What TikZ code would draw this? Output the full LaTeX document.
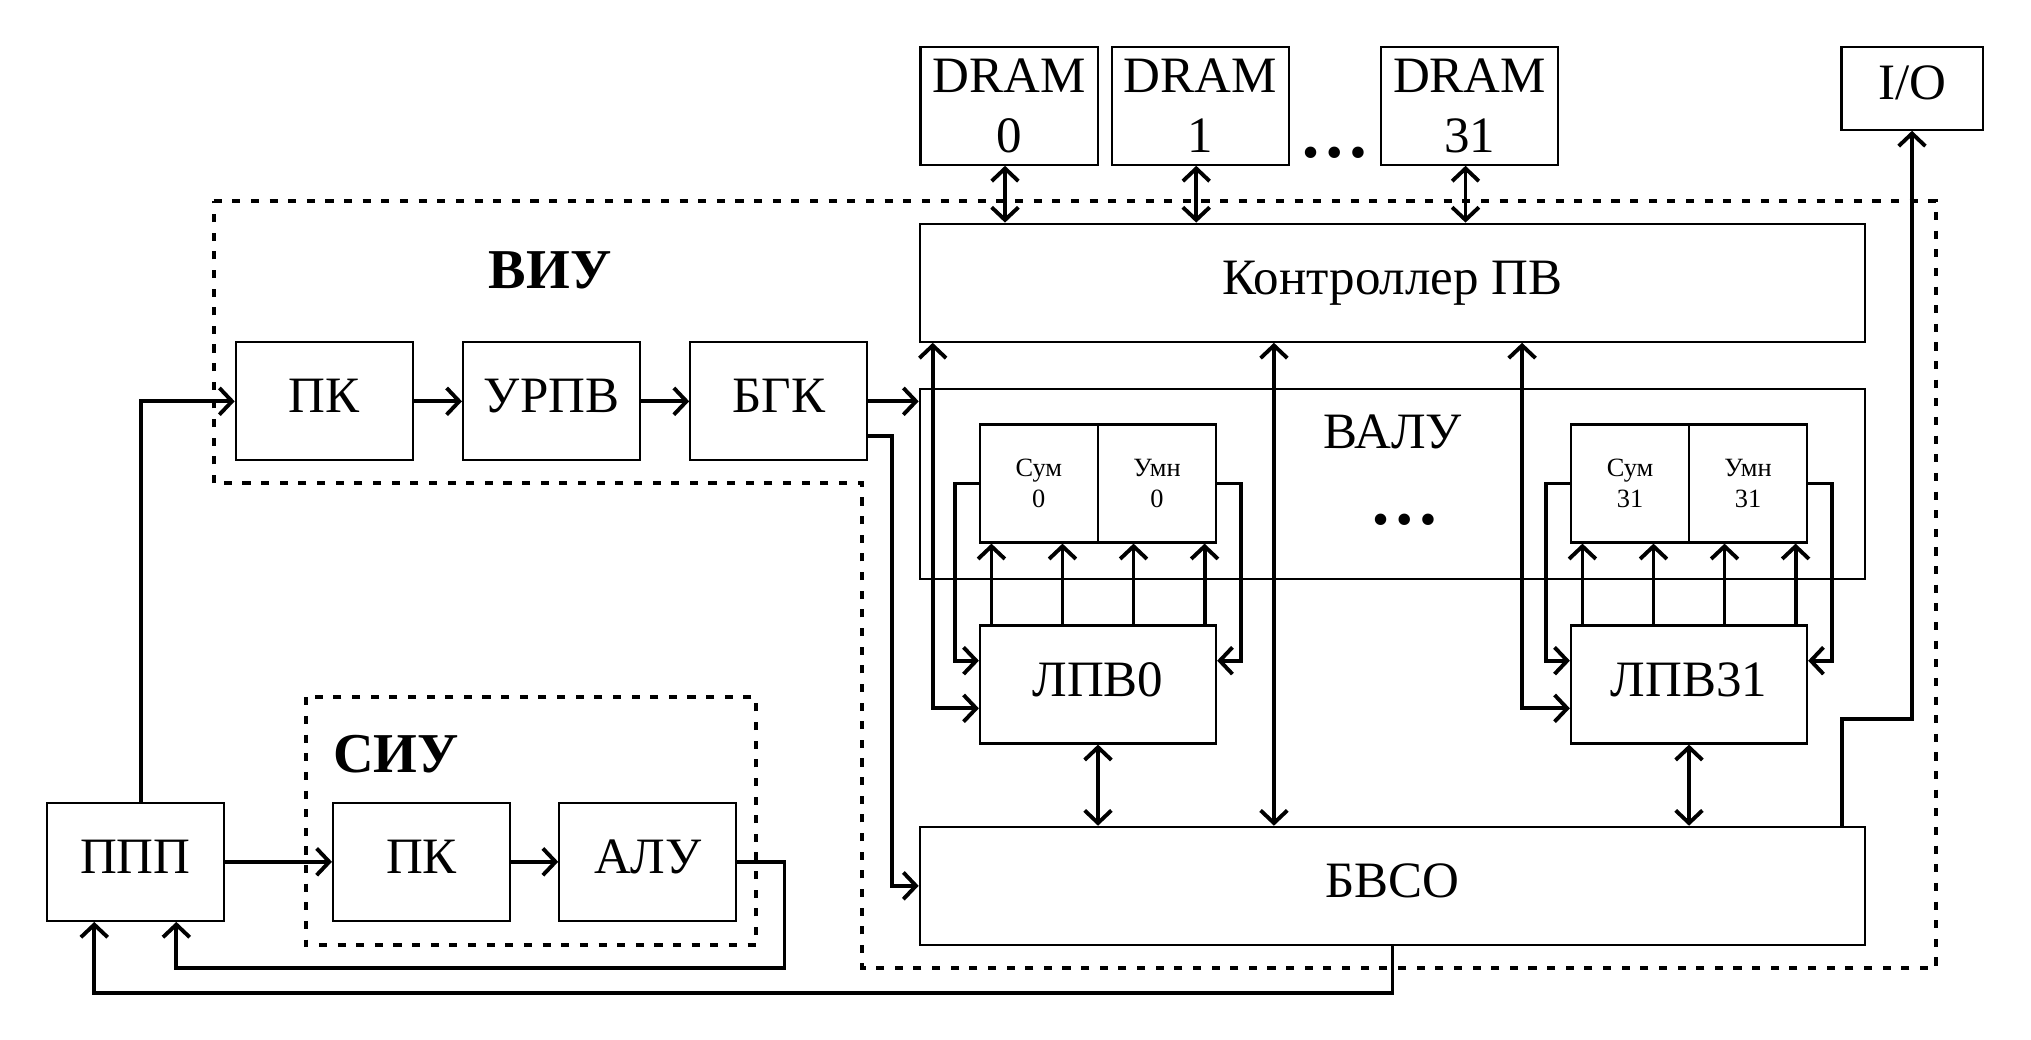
\documentclass[tikz,border=0pt]{standalone}
\usepackage{fontspec}
\setmainfont{Liberation Serif}
\usetikzlibrary{arrows.meta, positioning}

\begin{document}
\begin{tikzpicture}[x=0.01cm, y=-0.01cm, line width=1.1pt,
    >={Straight Barb[length=3.6pt, width=7.6pt]},
    box/.style={draw, line width=0.6pt, minimum width=1.77cm, minimum height=1.18cm,
        inner sep=0pt, text depth=3pt, font=\fontsize{14.5}{17}\selectfont},
    widebox/.style={box, minimum width=9.45cm},
    mem/.style={draw, line width=0.6pt, minimum width=1.77cm, minimum height=1.18cm,
        inner sep=0pt, align=center, font=\fontsize{14.5}{17}\selectfont},
    unitbox/.style={draw, line width=0.6pt, minimum width=1.18cm, minimum height=1.18cm,
        inner sep=0pt, align=center, font=\fontsize{7.5}{8.6}\selectfont},
    groupline/.style={draw, line width=1.1pt, dash pattern=on 2.3pt off 3pt},
    grouplabel/.style={inner sep=0pt, font=\fontsize{16}{19}\selectfont\bfseries},
    ellip/.style={inner sep=0pt, font=\fontsize{20}{24}\selectfont\bfseries}]

    \useasboundingbox (0,0) rectangle (2031,1039);

    % Memory and I/O
    \node (DRAM0) [mem] at (1009,105.7) {DRAM\\0};
    \node (DRAM1) [mem, right=0.12cm of DRAM0] {DRAM\\1};
    \node (DRAM31) [mem] at (1469.5,105.7) {DRAM\\31};
    \node (dramdots) [ellip] at (1335,153) {…};
    \node (IO) [box, minimum width=1.41cm, minimum height=0.83cm] at (1912,88.2) {I/O};

    % ВИУ
    \node (Ctrl) [widebox] at (1392.5,282.7) {Контроллер ПВ};
    \node (VALU) [widebox, minimum height=1.9cm] at (1392.5,484.2) {};
    \node (VALUtxt) [inner sep=0pt, text depth=3pt, font=\fontsize{14.5}{17}\selectfont] at (1392.5,437) {ВАЛУ};
    \node (valudots) [ellip] at (1405,520) {…};
    \node (Sum0) [unitbox] at (1038.8,483.5) {Сум\\0};
    \node (Umn0) [unitbox] at (1157,483.5) {Умн\\0};
    \node (Sum31) [unitbox] at (1630,483.5) {Сум\\31};
    \node (Umn31) [unitbox] at (1748,483.5) {Умн\\31};
    \node (LPV0) [box, minimum width=2.36cm] at (1098,684.5) {ЛПВ0};
    \node (LPV31) [box, minimum width=2.36cm] at (1689,684.5) {ЛПВ31};
    \node (BVSO) [widebox] at (1392.5,885.8) {БВСО};
    \node (PK) [box] at (324.3,401.3) {ПК};
    \node (URPV) [box, right=0.48cm of PK] {УРПВ};
    \node (BGK) [box, right=0.48cm of URPV] {БГК};
    \node (VIU) [grouplabel] at (550,270) {ВИУ};

    % СИУ
    \node (PPP) [box] at (135.3,861.8) {ППП};
    \node (PK2) [box, right=1.07cm of PPP] {ПК};
    \node (ALU) [box, right=0.47cm of PK2] {АЛУ};
    \node (SIU) [grouplabel] at (396,754) {СИУ};

    % Dashed groups
    \draw[groupline] (213.6,201) -- (1936,201) -- (1936,968) -- (862,968)
        -- (862,483.3) -- (213.6,483.3) -- cycle;
    \draw[groupline] (306,697.3) rectangle (756,945.3);

    % Arrows
    \draw[->] ([xshift=0.06cm]PPP.north) |- (PK.west);
    \draw[->] (PK) -- (URPV);
    \draw[->] (URPV) -- (BGK);
    \draw[->] (BGK) -- (BGK -| VALU.west);
    \draw[->] ([yshift=-0.347cm]BGK.east) -- ++(24,0) |- (BVSO.west);

    \draw[->] (PPP) -- (PK2);
    \draw[->] (PK2) -- (ALU);
    \draw[->] (ALU.east) -- ++(47,0) -- ++(0,106) -| ([xshift=0.41cm]PPP.south);
    \draw[->] (BVSO.south) -- ++(0,47) -| ([xshift=-0.41cm]PPP.south);

    \foreach \m in {DRAM0,DRAM1,DRAM31}
        \draw[<->] ([xshift=-0.04cm]\m.south) -- ([xshift=-0.04cm]\m.south |- Ctrl.north);
    \draw[->] ([xshift=4.49cm]BVSO.north) -- ++(0,-107) -| (IO.south);

    \draw[<->] ([xshift=-4.595cm]Ctrl.south) |- ([yshift=-0.238cm]LPV0.west);
    \draw[<->] ([xshift=1.295cm]Ctrl.south) |- ([yshift=-0.238cm]LPV31.west);
    \draw[<->] ([xshift=-1.185cm]Ctrl.south) -- ([xshift=-1.185cm]BVSO.north);
    \draw[<->] (LPV0) -- (LPV0 |- BVSO.north);
    \draw[<->] (LPV31) -- (LPV31 |- BVSO.north);

    % Lanes
    \foreach \l/\s/\u in {LPV0/Sum0/Umn0, LPV31/Sum31/Umn31} {
        \foreach \dx in {-1.065,-0.355,0.355,1.065}
            \draw[->] ([xshift=\dx cm]\l.north) -- ([xshift=\dx cm]\l.north |- \s.south);
        \draw[->] (\s.west) -- ++(-24,0) |- ([yshift=0.238cm]\l.west);
        \draw[->] (\u.east) -- ++(24,0) |- ([yshift=0.238cm]\l.east);
    }

\end{tikzpicture}
\end{document}
